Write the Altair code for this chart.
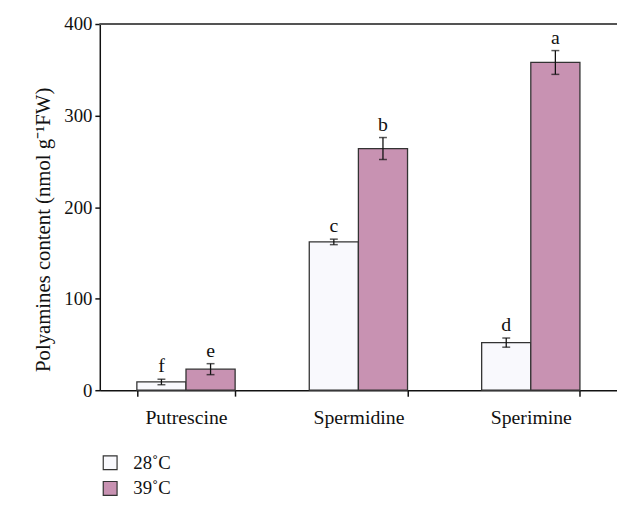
import altair as alt
import pandas as pd

categories = ["Putrescine", "Spermidine", "Sperimine"]
temps = ["28˚C", "39˚C"]
mean_28 = [9, 162, 52]
mean_39 = [23, 264, 358]
err_28 = [3, 3, 5]
err_39 = [6, 12, 13]
letters_28 = ["f", "c", "d"]
letters_39 = ["e", "b", "a"]
y_ticks = [0, 100, 200, 300, 400]
fill_colors = ["#f9f9fd", "#c892b2"]

rows = []
for i, c in enumerate(categories):
    for t, m, e, l in ((temps[0], mean_28[i], err_28[i], letters_28[i]),
                       (temps[1], mean_39[i], err_39[i], letters_39[i])):
        rows.append(dict(cat=c, temp=t, mean=m, lo=m - e, hi=m + e, letter=l))
df = pd.DataFrame(rows)

FONT = "Liberation Serif"
YTITLE = "Polyamines content (nmol g⁻¹FW)"

x_enc = alt.X(
    "cat:N", sort=categories,
    scale=alt.Scale(paddingInner=0.43, paddingOuter=0.215),
    axis=alt.Axis(title=None, labelAngle=0, tickBand="extent", labelFontSize=20,
                  labelPadding=12, tickSize=6, labelFont=FONT, labelColor="#111"),
)
xo_enc = alt.XOffset("temp:N", sort=temps, scale=alt.Scale(paddingInner=0, paddingOuter=0))
y_scale = alt.Scale(domain=[0, 400], nice=False)
y_axis = alt.Axis(values=y_ticks, title=YTITLE, grid=False, labelFontSize=19, labelFont=FONT,
                  titleFont=FONT, titleFontSize=21, titleFontWeight="normal", titlePadding=10,
                  titleY=208,
                  tickSize=5, labelPadding=3, labelColor="#111", titleColor="#111")

base = alt.Chart(df)

bars = base.mark_bar(stroke="#333", strokeWidth=1.3).encode(
    x=x_enc, xOffset=xo_enc,
    y=alt.Y("mean:Q", scale=y_scale, axis=y_axis),
    color=alt.Color("temp:N", sort=temps,
                    scale=alt.Scale(domain=temps, range=fill_colors),
                    legend=alt.Legend(title=None, orient="none", legendX=1, legendY=435,
                                      direction="vertical", symbolType="square",
                                      symbolSize=196, symbolStrokeColor="#333",
                                      symbolStrokeWidth=1.2, labelFont=FONT,
                                      labelFontSize=19, labelColor="#111",
                                      rowPadding=6, padding=0, labelOffset=14)),
)

rules = base.mark_rule(color="#111", strokeWidth=1.3).encode(
    x=x_enc, xOffset=xo_enc,
    y=alt.Y("lo:Q", scale=y_scale, axis=y_axis), y2="hi:Q",
)
caps_hi = base.mark_tick(color="#111", size=8, thickness=1.5).encode(
    x=x_enc, xOffset=xo_enc, y=alt.Y("hi:Q", scale=y_scale, axis=y_axis),
)
caps_lo = base.mark_tick(color="#111", size=8, thickness=1.5).encode(
    x=x_enc, xOffset=xo_enc, y=alt.Y("lo:Q", scale=y_scale, axis=y_axis),
)
labels = base.mark_text(font=FONT, fontSize=20, baseline="bottom", dy=-3, color="#111").encode(
    x=x_enc, xOffset=xo_enc, y=alt.Y("hi:Q", scale=y_scale, axis=y_axis), text="letter:N",
)
top_line = base.mark_rule(color="#555", strokeWidth=1.5).encode(y=alt.datum(400))

chart = alt.layer(bars, rules, caps_hi, caps_lo, labels, top_line).properties(
    width=524, height=371,
    autosize=alt.AutoSizeParams(type="none"),
    padding={"left": 93, "top": 13, "right": 0, "bottom": 108},
).configure_view(strokeWidth=0).configure_axis(
    domainColor="#111", domainWidth=1.5, tickColor="#111", tickWidth=1.5,
)

chart.save("out.html", embed_options={"renderer": "svg", "actions": False})
